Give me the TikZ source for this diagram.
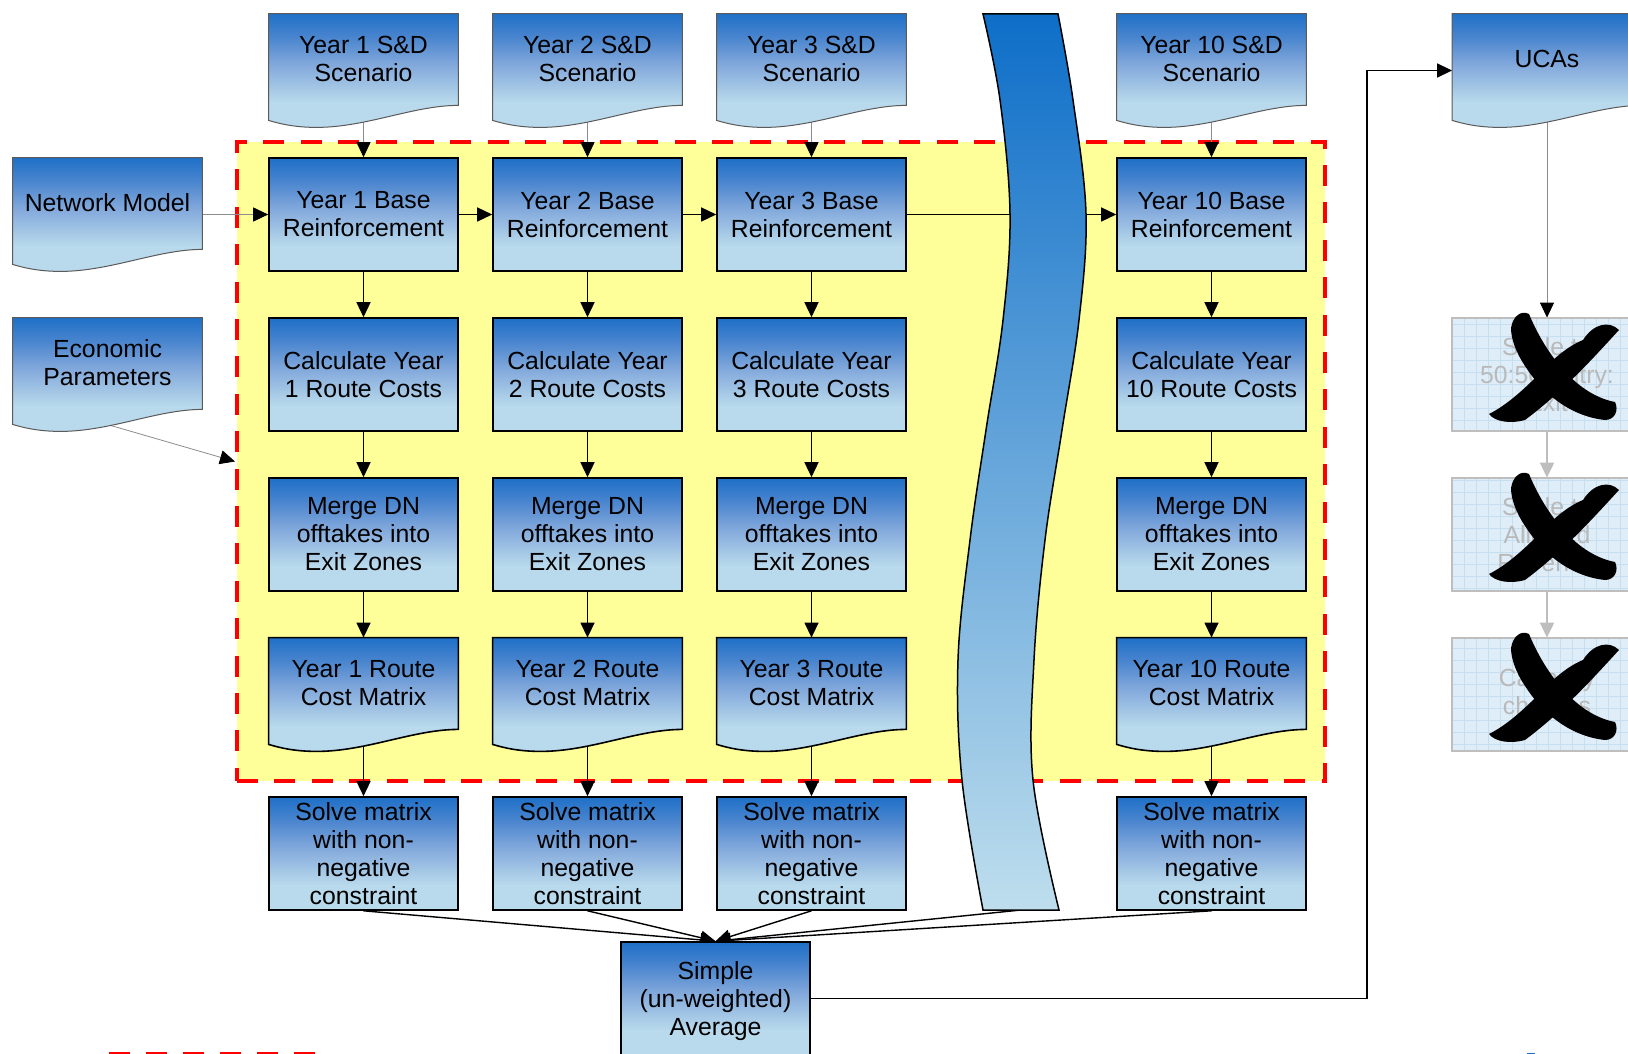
\documentclass[tikz,border=0pt]{standalone}
\usepackage{fontspec}
\setmainfont{Liberation Sans}
\usetikzlibrary{arrows.meta,calc}

% palette
\definecolor{topb}{RGB}{30,112,200}
\definecolor{upb}{RGB}{72,132,206}
\definecolor{midb}{RGB}{132,170,220}
\definecolor{lowb}{RGB}{185,218,236}
\definecolor{stripetop}{RGB}{14,110,200}
\definecolor{stripebot}{RGB}{190,222,237}
\definecolor{zoneyellow}{RGB}{255,255,153}
\definecolor{feedgray}{RGB}{140,140,140}
\definecolor{docedge}{RGB}{90,90,90}
\definecolor{greyfill}{RGB}{222,237,247}
\definecolor{greygrid}{RGB}{198,223,240}
\definecolor{greyedge}{RGB}{190,190,190}
\definecolor{greytext}{RGB}{185,185,185}

% blue-to-pale vertical gradient of the process boxes (25bp..75bp spans the path)
\pgfdeclareverticalshading{boxgrad}{100bp}{color(0bp)=(lowb); color(25bp)=(lowb); color(36bp)=(lowb); color(52bp)=(midb); color(65bp)=(upb); color(75bp)=(topb); color(100bp)=(topb)}

\pgfdeclarelayer{zonelayer}
\pgfdeclarelayer{linklayer}
\pgfdeclarelayer{stripelayer}
\pgfdeclarelayer{shapelayer}
\pgfsetlayers{zonelayer,linklayer,stripelayer,shapelayer,main}

% document outline: flat top, wavy bottom
\newcommand\docshape[2]{%
  \path[#2] (#1.north west) -- (#1.north east) -- ($(#1.south east)+(0,-22)$)
    .. controls ($(#1.south east)+(-45,-22)$) and ($(#1.south west)+(98,0)$) .. ($(#1.south west)+(48,0)$)
    .. controls ($(#1.south west)+(25,0)$) and ($(#1.south west)+(10,-4)$) .. ($(#1.south west)+(0,-7)$) -- cycle;}

% brush-stroke cross
\newcommand\strikeX[2]{%
  \fill[black,shift={(#1,#2)}]
    (-42,-38) .. controls (-40,-50) and (-32,-56) .. (-24,-52)
    .. controls (-10,-18) and (20,28) .. (62,36)
    .. controls (66,44) and (62,54) .. (52,54)
    .. controls (15,50) and (-12,25) .. (-28,0)
    .. controls (-36,-12) and (-42,-26) .. cycle;
  \fill[black,shift={(#1,#2)}]
    (30,-26) .. controls (40,-42) and (56,-46) .. (66,-36)
    .. controls (42,-10) and (12,24) .. (-28,54)
    .. controls (-42,58) and (-58,56) .. (-64,48)
    .. controls (-40,36) and (-18,12) .. (0,-6)
    .. controls (10,-15) and (20,-22) .. cycle;}

\tikzset{
  every node/.style={font=\fontsize{12.4pt}{14pt}\selectfont, align=center, inner sep=1pt},
  procbox/.style={draw=black, line width=0.8pt, shade, shading=boxgrad,
    minimum width=94.5pt, minimum height=56.5pt},
  docnode/.style={minimum width=94.5pt, minimum height=56.5pt, text depth=12pt},
  greynode/.style={minimum width=94.5pt, minimum height=56.5pt, text=greytext},
  infeed/.style={draw=docedge, line width=0.5pt, shade, shading=boxgrad},
  matrixdoc/.style={draw=black, line width=0.8pt, shade, shading=boxgrad},
  zone/.style={fill=zoneyellow, draw=red, line width=2pt, dash pattern=on 10.5pt off 8.2pt,
    minimum width=544pt, minimum height=319.5pt, inner sep=0pt},
  tip/.style={-{Triangle[length=7.5pt,width=7pt,color=black]}},
  flow/.style={tip, draw=black, line width=0.7pt},
  feed/.style={tip, draw=feedgray, line width=0.4pt},
  greyarrow/.style={-{Triangle[length=7.5pt,width=7pt,color=greyedge]}, draw=greyedge, line width=1pt},
}

\begin{document}
\begin{tikzpicture}[x=0.5pt, y=-0.5pt]
\useasboundingbox (0,0) rectangle (1628,1054);

% dashed process zone
\begin{pgfonlayer}{zonelayer}
  \node[zone] (zone) at (781,461.5) {};
  \draw[red, line width=2pt, dash pattern=on 10.5pt off 8pt] (109,1054) -- (317,1054);
  \fill[topb] (1527,1052.5) rectangle (1535,1056);
\end{pgfonlayer}

% inputs
\node[docnode] (s1)  at (363.5,70.5)  {Year 1 S\&D\\Scenario};
\node[docnode] (s2)  at (587.5,70.5)  {Year 2 S\&D\\Scenario};
\node[docnode] (s3)  at (811.5,70.5)  {Year 3 S\&D\\Scenario};
\node[docnode] (s10) at (1211.5,70.5) {Year 10 S\&D\\Scenario};
\node[docnode] (nm)  at (107.5,214.5) {Network Model};
\node[docnode] (econ) at (107.5,374.5) {Economic\\Parameters};
\node[docnode] (ucas) at (1547,70.5) {UCAs};

% yearly pipelines
\node[procbox] (b1)  at (363.5,214.5)  {Year 1 Base\\Reinforcement};
\node[procbox] (b2)  at (587.5,214.5)  {Year 2 Base\\Reinforcement};
\node[procbox] (b3)  at (811.5,214.5)  {Year 3 Base\\Reinforcement};
\node[procbox] (b10) at (1211.5,214.5) {Year 10 Base\\Reinforcement};

\node[procbox] (c1)  at (363.5,374.5)  {Calculate Year\\1 Route Costs};
\node[procbox] (c2)  at (587.5,374.5)  {Calculate Year\\2 Route Costs};
\node[procbox] (c3)  at (811.5,374.5)  {Calculate Year\\3 Route Costs};
\node[procbox] (c10) at (1211.5,374.5) {Calculate Year\\10 Route Costs};

\foreach \i/\x in {1/363.5,2/587.5,3/811.5,10/1211.5} {
  \node[procbox] (m\i) at (\x,534.5) {Merge DN\\offtakes into\\Exit Zones};
  \node[procbox] (v\i) at (\x,853.5) {Solve matrix\\with non-\\negative\\constraint};
}

\node[docnode] (r1)  at (363.5,694.5)  {Year 1 Route\\Cost Matrix};
\node[docnode] (r2)  at (587.5,694.5)  {Year 2 Route\\Cost Matrix};
\node[docnode] (r3)  at (811.5,694.5)  {Year 3 Route\\Cost Matrix};
\node[docnode] (r10) at (1211.5,694.5) {Year 10 Route\\Cost Matrix};

\node[procbox, text depth=-2pt] (avg) at (715.5,998.5) {Simple\\(un-weighted)\\Average};

% discarded tariff steps
\node[greynode] (g1) at (1547,374.5) {Scale to\\50:50 Entry:\\Exit};
\node[greynode] (g2) at (1547,534.5) {Scale to\\Allowed\\Revenue};
\node[greynode] (g3) at (1547,694.5) {Capacity\\charges};

\coordinate (gapbot) at (1021,910);
\coordinate (ucturn) at (1367,70.5);

% document shapes and greyed boxes
\begin{pgfonlayer}{shapelayer}
  \foreach \n in {s1,s2,s3,s10,nm,econ,ucas} {\docshape{\n}{infeed}}
  \foreach \n in {r1,r2,r3,r10} {\docshape{\n}{matrixdoc}}
  \foreach \n in {g1,g2,g3} {
    \fill[greyfill] (\n.north west) rectangle (\n.south east);
    \draw[greygrid, line width=0.4pt] (\n.north west) grid[step=6pt] (\n.south east);
    \draw[greyedge, line width=1pt] (\n.north west) rectangle (\n.south east);
  }
\end{pgfonlayer}

% "years skipped" band
\begin{pgfonlayer}{stripelayer}
  \shade[top color=stripetop, bottom color=stripebot, draw=black, line width=0.75pt]
    plot[smooth, tension=0.6] coordinates {(983,14) (1000,100) (1010,214) (1003,320) (986,430) (970,540) (958,660) (962,780) (983,910)}
    -- plot[smooth, tension=0.6] coordinates {(1059,910) (1033,780) (1034,660) (1045,540) (1062,430) (1079,320) (1086,214) (1073,100) (1058,14)}
    -- cycle;
\end{pgfonlayer}

% connectors
\begin{pgfonlayer}{linklayer}
  \foreach \i in {1,2,3,10} {
    \draw[feed] ($(s\i.south)+(0,-5)$) -- (b\i.north);
    \draw[flow] (b\i.south) -- (c\i.north);
    \draw[flow] (c\i.south) -- (m\i.north);
    \draw[flow] (m\i.south) -- (r\i.north);
    \draw[flow] ($(r\i.south)+(0,-5)$) -- (v\i.north);
    \draw[flow] (v\i.south) -- (avg.north);
  }
  \draw[flow] (b1.east) -- (b2.west);
  \draw[flow] (b2.east) -- (b3.west);
  \draw[flow] (b3.east) -- (b10.west);
  \draw[feed] (nm.east) -- (b1.west);
  \draw[feed] ($(econ.south)+(3,-6)$) -- (zone.west);
  \draw[flow] (gapbot) -- (avg.north);
  \draw[flow] (avg.east) -| (ucturn) -- (ucas.west);
  \draw[feed] ($(ucas.south)+(0,-5)$) -- (g1.north);
  \draw[greyarrow] (g1.south) -- (g2.north);
  \draw[greyarrow] (g2.south) -- (g3.north);
\end{pgfonlayer}

% crossed-out steps
\strikeX{1553}{366}
\strikeX{1553}{526}
\strikeX{1553}{686}
\end{tikzpicture}
\end{document}
